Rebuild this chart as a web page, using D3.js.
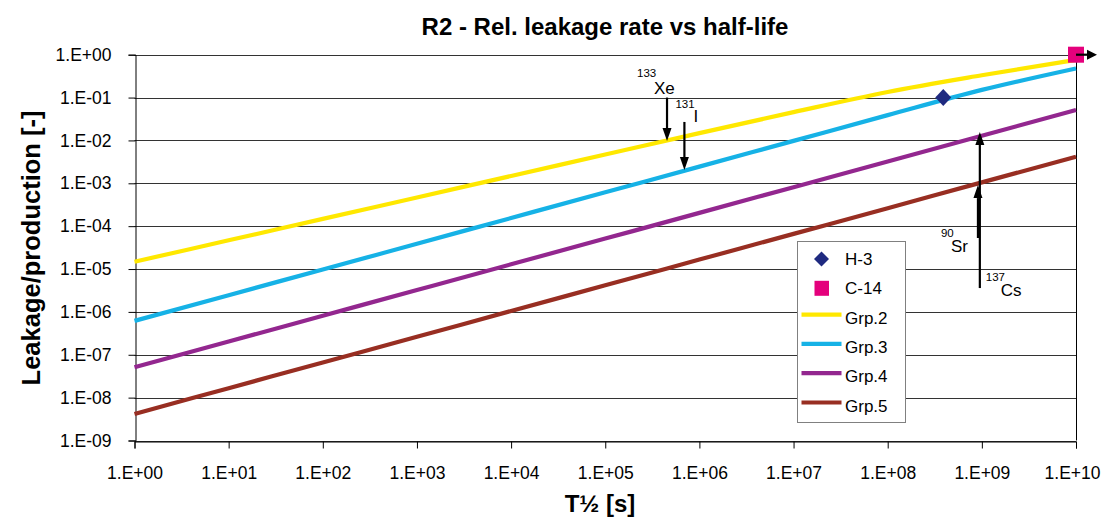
<!DOCTYPE html>
<html>
<head>
<meta charset="utf-8">
<script src="https://cdn.jsdelivr.net/npm/d3@7"></script>
<style>
  html, body { margin: 0; padding: 0; background: #fff; }
  svg { display: block; }
  text { font-family: "Liberation Sans", Arial, sans-serif; }
</style>
</head>
<body>
<svg id="chart" width="1102" height="518"></svg>
<script>
// ---- Data ----
const halfLife = [1e0, 1e1, 1e2, 1e3, 1e4, 1e5, 1e6, 1e7, 1e8, 1e9, 1e10];
const grp2 = [1.48e-5, 4.68e-5, 1.48e-4, 4.68e-4, 1.48e-3, 4.68e-3, 1.48e-2, 4.57e-2, 0.135, 0.331, 0.759];
const grp3 = [6.17e-7, 2.45e-6, 9.77e-6, 3.89e-5, 1.55e-4, 6.17e-4, 2.45e-3, 9.77e-3, 0.0389, 0.151, 0.479];
const grp4 = [5.13e-8, 2.04e-7, 8.13e-7, 3.24e-6, 1.29e-5, 5.13e-5, 2.04e-4, 8.13e-4, 3.24e-3, 0.0129, 0.0513];
const grp5 = [4.17e-9, 1.66e-8, 6.61e-8, 2.63e-7, 1.05e-6, 4.17e-6, 1.66e-5, 6.61e-5, 2.63e-4, 1.05e-3, 4.17e-3];
const seriesNames = ["Grp.2", "Grp.3", "Grp.4", "Grp.5"];
const seriesColors = ["#FFE800", "#16B2E6", "#93278F", "#982E22"];

const pointNames = ["H-3", "C-14"];
const pointT = [3.89e8, 1e10];
const pointY = [0.1, 1.0];

const xTickValues = [1e0, 1e1, 1e2, 1e3, 1e4, 1e5, 1e6, 1e7, 1e8, 1e9, 1e10];
const xTickLabels = ["1.E+00","1.E+01","1.E+02","1.E+03","1.E+04","1.E+05","1.E+06","1.E+07","1.E+08","1.E+09","1.E+10"];
const yTickValues = [1e0, 1e-1, 1e-2, 1e-3, 1e-4, 1e-5, 1e-6, 1e-7, 1e-8, 1e-9];
const yTickLabels = ["1.E+00","1.E-01","1.E-02","1.E-03","1.E-04","1.E-05","1.E-06","1.E-07","1.E-08","1.E-09"];

// annotated isotopes
const isoNames = ["Xe", "I", "Sr", "Cs"];
const isoMass = ["133", "131", "90", "137"];
const isoT = [4.53e5, 6.93e5, 9.09e8, 9.52e8];
const isoFrom = [0.1, 0.027, 5.3e-5, 3.6e-6];
const isoTo = [0.0097, 0.00204, 9.1e-4, 0.0158];

// ---- Layout ----
const svg = d3.select("#chart");
const W = 1102, H = 518;
const x = d3.scaleLog().domain([1, 1e10]).range([134.5, 1076]);
const y = d3.scaleLog().domain([1e-9, 1]).range([440.5, 54.7]);

svg.append("rect").attr("width", W).attr("height", H).attr("fill", "#fff");

// gridlines
svg.append("g").selectAll("line").data(yTickValues).join("line")
  .attr("x1", x(1)).attr("x2", x(1e10))
  .attr("y1", d => Math.round(y(d)) + 0.5).attr("y2", d => Math.round(y(d)) + 0.5)
  .attr("stroke", "#333").attr("stroke-width", 1);

// right border
svg.append("line").attr("x1", Math.round(x(1e10)) + 0.5).attr("x2", Math.round(x(1e10)) + 0.5)
  .attr("y1", y(1)).attr("y2", y(1e-9)).attr("stroke", "#000");

// axes
const yAxis = d3.axisLeft(y).tickValues(yTickValues).tickFormat((d, i) => yTickLabels[i]).tickSizeOuter(0).tickSize(7).tickPadding(17);
const gy = svg.append("g").attr("transform", `translate(${Math.round(x(1)) + 0.5},0)`).call(yAxis);
gy.selectAll("text").attr("font-size", "17.5px").attr("fill", "#000").attr("font-family", '"Liberation Sans", Arial, sans-serif');
gy.selectAll("line").attr("stroke", "#000");
gy.select(".domain").attr("stroke", "#000");

const xAxis = d3.axisBottom(x).tickValues(xTickValues).tickFormat((d, i) => xTickLabels[i]).tickSizeOuter(0).tickSize(7).tickPadding(18);
const gx = svg.append("g").attr("transform", `translate(0,${Math.round(y(1e-9)) + 0.5})`).call(xAxis);
gx.selectAll("text").attr("font-size", "17.5px").attr("fill", "#000").attr("font-family", '"Liberation Sans", Arial, sans-serif')
  .attr("dx", (d, i) => i === xTickValues.length - 1 ? -4 : 0);
gx.selectAll("line").attr("stroke", "#000");
gx.select(".domain").attr("stroke", "#000");

// series lines
const series = [grp2, grp3, grp4, grp5];
const line = d3.line().x((d, i) => x(halfLife[i])).y(d => y(d)).curve(d3.curveMonotoneX);
series.forEach((s, k) => {
  svg.append("path").datum(s).attr("d", line)
    .attr("fill", "none").attr("stroke", seriesColors[k]).attr("stroke-width", 4.2)
    .attr("stroke-linecap", "butt");
});

// arrowhead helper
function arrow(x1, y1, x2, y2, headL = 13, headW = 10) {
  const ang = Math.atan2(y2 - y1, x2 - x1);
  const bx = x2 - headL * Math.cos(ang), by = y2 - headL * Math.sin(ang);
  svg.append("line").attr("x1", x1).attr("y1", y1).attr("x2", bx).attr("y2", by)
    .attr("stroke", "#000").attr("stroke-width", 2.2);
  const px = -Math.sin(ang) * headW / 2, py = Math.cos(ang) * headW / 2;
  svg.append("path").attr("d", `M${x2},${y2} L${bx + px},${by + py} L${bx - px},${by - py} Z`).attr("fill", "#000");
}

// markers: H-3 diamond
const hx = x(pointT[0]), hy = y(pointY[0]);
svg.append("path").attr("d", `M${hx},${hy - 8.5} L${hx + 8},${hy} L${hx},${hy + 8.5} L${hx - 8},${hy} Z`).attr("fill", "#1F2A80");
// C-14 square + arrow beyond axis
const cx = x(pointT[1]), cy = y(pointY[1]);
svg.append("rect").attr("x", cx - 8).attr("y", cy - 8).attr("width", 16).attr("height", 16).attr("fill", "#E4007C");
arrow(cx, cy, cx + 21, cy, 10, 10);

// isotope annotations
const lblOffsets = [
  { dx: -13, dy: -4, mdx: -17, mdy: -17 },   // Xe (arrow top)
  { dx: 9, dy: 0, mdx: -18, mdy: -14 },       // I
  { dx: -27, dy: 14, mdx: -10, mdy: -15 },    // Sr (arrow bottom)
  { dx: 21, dy: 8, mdx: -15, mdy: -15 }       // Cs
];
isoNames.forEach((nm, i) => {
  const ax = x(isoT[i]);
  arrow(ax, y(isoFrom[i]), ax, y(isoTo[i]), 13, 9);
  const o = lblOffsets[i];
  const by = y(isoFrom[i]);
  svg.append("text").attr("x", ax + o.dx).attr("y", by + o.dy).attr("font-size", "17px").text(nm);
  svg.append("text").attr("x", ax + o.dx + o.mdx).attr("y", by + o.dy + o.mdy)
    .attr("font-size", "11.5px").text(isoMass[i]);
});

// legend
const lg = svg.append("g");
lg.append("rect").attr("x", 797.5).attr("y", 241.5).attr("width", 108).attr("height", 181)
  .attr("fill", "#fff").attr("stroke", "#808080").attr("stroke-width", 1);
const legY0 = 259, legStep = 29.3;
const legendNames = pointNames.concat(seriesNames);
legendNames.forEach((nm, i) => {
  const ly = legY0 + i * legStep;
  if (i === 0) {
    lg.append("path").attr("d", `M821.5,${ly - 7.5} L829,${ly} L821.5,${ly + 7.5} L814,${ly} Z`).attr("fill", "#1F2A80");
  } else if (i === 1) {
    lg.append("rect").attr("x", 814.5).attr("y", ly - 7.5).attr("width", 14.5).attr("height", 15).attr("fill", "#E4007C");
  } else {
    lg.append("line").attr("x1", 801.5).attr("x2", 841.5).attr("y1", ly - 3).attr("y2", ly - 3)
      .attr("stroke", seriesColors[i - 2]).attr("stroke-width", 4.2);
  }
  lg.append("text").attr("x", 845).attr("y", ly + 6).attr("font-size", "17px").attr("fill", "#000").text(nm);
});

// titles
svg.append("text").attr("x", 605).attr("y", 35).attr("text-anchor", "middle")
  .attr("font-size", "24px").attr("font-weight", "bold").text("R2 - Rel. leakage rate vs half-life");
svg.append("text").attr("transform", "translate(40,248) rotate(-90)").attr("text-anchor", "middle")
  .attr("font-size", "25.5px").attr("font-weight", "bold").text("Leakage/production [-]");
svg.append("text").attr("x", 600).attr("y", 512).attr("text-anchor", "middle")
  .attr("font-size", "24px").attr("font-weight", "bold").text("T½ [s]");
</script>
</body>
</html>
